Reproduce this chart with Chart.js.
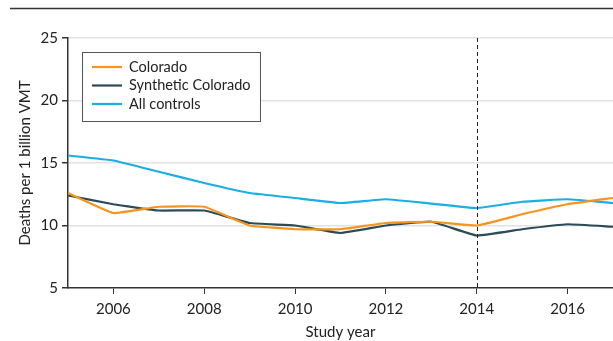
<!DOCTYPE html>
<html>
<head>
<meta charset="utf-8">
<script src="https://cdn.jsdelivr.net/npm/chart.js@4/dist/chart.umd.min.js"></script>
<style>
  html, body { margin: 0; padding: 0; background: #ffffff; }
  #wrap { width: 613px; height: 341px; position: relative; }
</style>
</head>
<body>
<div id="wrap"><canvas id="c" width="613" height="341"></canvas></div>
<script>
// Study years and annual traffic death rates (deaths per 1 billion VMT)
const years = [2005, 2006, 2007, 2008, 2009, 2010, 2011, 2012, 2013, 2014, 2015, 2016, 2017];
const colorado = [12.6, 11.0, 11.5, 11.5, 10.0, 9.7, 9.7, 10.2, 10.3, 10.0, 10.9, 11.7, 12.2];
const syntheticColorado = [12.4, 11.7, 11.2, 11.2, 10.2, 10.0, 9.4, 10.0, 10.3, 9.2, 9.7, 10.1, 9.9];
const allControls = [15.6, 15.2, 14.3, 13.4, 12.6, 12.2, 11.8, 12.1, 11.75, 11.4, 11.9, 12.1, 11.8];

const xTicks = [2006, 2008, 2010, 2012, 2014, 2016];
const yTicks = [5, 10, 15, 20, 25];
const policyYear = 2014;

const FONT = "Lato, 'Liberation Sans', sans-serif";

function toPoints(vals) {
  return years.map((yr, i) => ({ x: yr, y: vals[i] }));
}

// Dashed reference line at the policy year
const policyLine = {
  id: 'policyLine',
  afterDatasetsDraw(chart) {
    const { ctx, chartArea, scales } = chart;
    const x = Math.round(scales.x.getPixelForValue(policyYear)) + 0.5;
    ctx.save();
    ctx.strokeStyle = '#222';
    ctx.lineWidth = 1;
    ctx.setLineDash([4, 3]);
    ctx.beginPath();
    ctx.moveTo(x, chartArea.top);
    ctx.lineTo(x, chartArea.bottom);
    ctx.stroke();
    ctx.restore();
  }
};

// Horizontal rule across the top of the figure
const topRule = {
  id: 'topRule',
  beforeDraw(chart) {
    const { ctx } = chart;
    ctx.save();
    ctx.strokeStyle = '#333';
    ctx.lineWidth = 1.5;
    ctx.beginPath();
    ctx.moveTo(10, 8.5);
    ctx.lineTo(chart.width, 8.5);
    ctx.stroke();
    ctx.restore();
  }
};

// Boxed legend inside the upper-left of the plot
const boxLegend = {
  id: 'boxLegend',
  afterDatasetsDraw(chart) {
    const { ctx } = chart;
    const bx = 82.5, by = 52.5, bw = 178, bh = 69;
    ctx.save();
    ctx.fillStyle = '#ffffff';
    ctx.fillRect(bx, by, bw, bh);
    ctx.strokeStyle = '#555';
    ctx.lineWidth = 1;
    ctx.strokeRect(bx, by, bw, bh);
    ctx.font = "14.5px " + FONT;
    ctx.textBaseline = 'middle';
    ctx.textAlign = 'left';
    chart.data.datasets.forEach((ds, i) => {
      const y = 67 + i * 18.5;
      ctx.strokeStyle = ds.borderColor;
      ctx.lineWidth = 2.2;
      ctx.beginPath();
      ctx.moveTo(92, y);
      ctx.lineTo(122, y);
      ctx.stroke();
      ctx.fillStyle = '#222';
      ctx.fillText(ds.label, 129, y);
    });
    ctx.restore();
  }
};

new Chart(document.getElementById('c'), {
  type: 'line',
  data: {
    datasets: [
      { label: 'Colorado', data: toPoints(colorado), borderColor: '#F7941D' },
      { label: 'Synthetic Colorado', data: toPoints(syntheticColorado), borderColor: '#2A4B57' },
      { label: 'All controls', data: toPoints(allControls), borderColor: '#1BADE6' }
    ].map(d => Object.assign(d, { borderWidth: 2.2, pointRadius: 0, tension: 0.1, fill: false }))
  },
  options: {
    responsive: false,
    animation: false,
    devicePixelRatio: 1,
    layout: { padding: { top: 38, right: 0, left: 0, bottom: 0 } },
    plugins: { legend: { display: false }, tooltip: { enabled: false } },
    scales: {
      x: {
        type: 'linear',
        min: 2005,
        max: 2017,
        afterBuildTicks(scale) { scale.ticks = xTicks.map(v => ({ value: v })); },
        afterFit(scale) { scale.height = 53; },
        border: { display: true, color: '#333', width: 1.5 },
        grid: { drawOnChartArea: false, drawTicks: true, tickLength: 6, color: '#333', tickColor: '#333' },
        ticks: {
          padding: 6,
          color: '#222',
          font: { family: FONT, size: 15 },
          callback: v => String(v)
        },
        title: {
          display: true,
          text: 'Study year',
          color: '#222',
          font: { family: FONT, size: 15 },
          padding: { top: 3, bottom: 0 }
        }
      },
      y: {
        min: 5,
        max: 25,
        afterBuildTicks(scale) { scale.ticks = yTicks.map(v => ({ value: v })); },
        afterFit(scale) { scale.width = 68; },
        border: { display: true, color: '#333', width: 1.5 },
        grid: {
          drawTicks: true,
          tickLength: 6,
          color: ctx => (ctx.tick && ctx.tick.value === 5) ? 'rgba(0,0,0,0)' : '#e2e2e2',
          tickColor: '#333',
          lineWidth: 1.5
        },
        ticks: {
          padding: 4,
          color: '#222',
          font: { family: FONT, size: 15 },
          callback: v => String(v)
        },
        title: {
          display: true,
          text: 'Deaths per 1 billion VMT',
          color: '#222',
          font: { family: FONT, size: 15 },
          padding: { top: 16, bottom: 0 }
        }
      }
    }
  },
  plugins: [topRule, policyLine, boxLegend]
});
</script>
</body>
</html>
